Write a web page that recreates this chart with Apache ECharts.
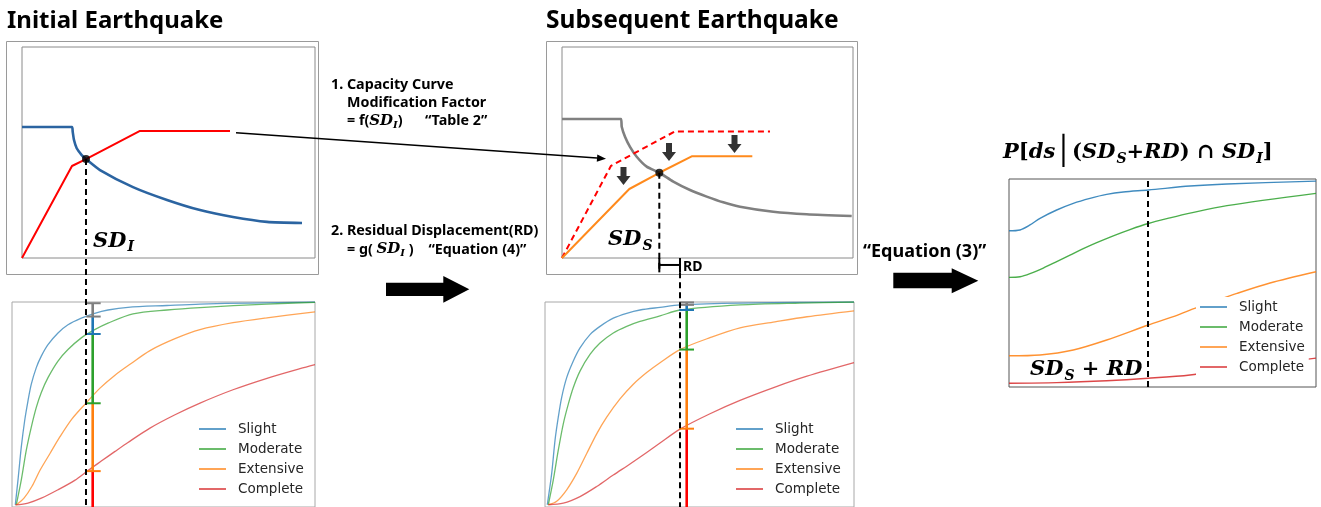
<!DOCTYPE html>
<html><head><meta charset="utf-8">
<script src="https://cdn.jsdelivr.net/npm/echarts@6/dist/echarts.min.js"></script>
<style>html,body{margin:0;padding:0;background:#fff}#c{width:1321px;height:507px}</style>
</head><body><div id="c"></div><script>
// ---------- DATA ----------
const stateNames = ['Slight', 'Moderate', 'Extensive', 'Complete'];
// Initial earthquake: demand & capacity (x: SD 0-10, y: SA 0-1)
const demI_x = [0, 1.706, 1.730, 1.775, 1.867, 2.038, 2.184, 2.662, 3.788, 4.949, 6.075, 7.201, 8.362, 9.556];
const demI_y = [0.621, 0.621, 0.599, 0.559, 0.520, 0.488, 0.469, 0.417, 0.336, 0.275, 0.227, 0.194, 0.171, 0.166];
const capI_x = [0, 1.706, 2.184, 4.027, 7.099];
const capI_y = [0, 0.436, 0.469, 0.602, 0.602];
const ptI = [2.184, 0.469];
// Subsequent earthquake
const demS_x = [0, 2.027, 2.052, 2.165, 2.337, 2.567, 2.911, 3.344, 3.825, 4.399, 4.973, 5.540, 6.117, 7.261, 8.409, 9.955];
const demS_y = [0.659, 0.659, 0.622, 0.575, 0.527, 0.480, 0.433, 0.404, 0.362, 0.322, 0.291, 0.264, 0.243, 0.219, 0.207, 0.199];
const capO_x = [0, 1.684, 3.883, 7.148];
const capO_y = [0, 0.437, 0.600, 0.600];
const capM_x = [0, 2.313, 3.344, 4.457, 6.540];
const capM_y = [0, 0.327, 0.404, 0.482, 0.482];
const ptS = [3.344, 0.404];
const downArrowX = [2.113, 3.677, 5.928];
const downArrowY = [0.389, 0.502, 0.540];
const rdX = [3.344, 4.055];
const rdY = -0.033;
const dashBottom = -1.18;
// Fragility curves, initial (x: 0-10, P: 0-1)
const fL_slight_x = [0.109, 0.198, 0.307, 0.419, 0.528, 0.637, 0.802, 0.967, 1.188, 1.518, 1.848, 2.287, 2.729, 3.168, 3.828, 5.116, 6.205, 7.855, 10];
const fL_slight_y = [0.011, 0.132, 0.293, 0.422, 0.518, 0.599, 0.680, 0.736, 0.792, 0.849, 0.889, 0.921, 0.945, 0.961, 0.974, 0.983, 0.990, 0.995, 1.0];
const fL_mod_x = [0.142, 0.307, 0.472, 0.637, 0.802, 0.967, 1.188, 1.518, 1.848, 2.287, 2.729, 3.168, 3.993, 5.116, 6.205, 8.416, 10];
const fL_mod_y = [0.011, 0.132, 0.277, 0.390, 0.486, 0.559, 0.631, 0.712, 0.768, 0.825, 0.865, 0.897, 0.942, 0.961, 0.973, 0.990, 0.998];
const fL_ext_x = [0.142, 0.396, 0.660, 0.924, 1.254, 1.584, 1.980, 2.442, 2.904, 3.399, 3.894, 4.554, 5.380, 6.205, 7.294, 8.416, 10];
const fL_ext_y = [0.010, 0.043, 0.101, 0.179, 0.261, 0.343, 0.430, 0.507, 0.580, 0.643, 0.696, 0.763, 0.821, 0.865, 0.899, 0.923, 0.952];
const fL_com_x = [0.109, 0.528, 0.967, 1.518, 2.069, 2.508, 2.947, 3.389, 3.828, 4.554, 5.380, 6.205, 7.294, 8.416, 9.505, 10];
const fL_com_y = [0.010, 0.019, 0.043, 0.084, 0.130, 0.178, 0.224, 0.270, 0.315, 0.385, 0.450, 0.507, 0.572, 0.628, 0.675, 0.695];
const barL_x = 2.663, barL_tick = [2.452, 2.927];
const barL_levels = [0.994, 0.929, 0.844, 0.506, 0.175, -0.03];
// Fragility curves, subsequent
const fM_slight_x = [0.074, 0.217, 0.324, 0.430, 0.540, 0.702, 0.916, 1.133, 1.456, 1.780, 2.210, 2.644, 3.074, 3.722, 4.369, 6.311, 10];
const fM_slight_y = [0.011, 0.164, 0.325, 0.438, 0.535, 0.631, 0.712, 0.776, 0.841, 0.881, 0.921, 0.945, 0.961, 0.974, 0.986, 0.995, 1.0];
const fM_mod_x = [0.107, 0.269, 0.430, 0.592, 0.754, 0.916, 1.133, 1.456, 1.780, 2.210, 2.644, 3.074, 3.722, 4.369, 6.311, 8.252, 10];
const fM_mod_y = [0.011, 0.132, 0.277, 0.406, 0.502, 0.583, 0.663, 0.744, 0.800, 0.849, 0.881, 0.905, 0.932, 0.961, 0.986, 0.995, 1.0];
const fM_ext_x = [0.107, 0.379, 0.702, 1.026, 1.350, 1.673, 1.997, 2.427, 2.858, 3.291, 3.722, 4.369, 5.340, 6.311, 7.443, 8.479, 10];
const fM_ext_y = [0.011, 0.028, 0.084, 0.164, 0.261, 0.357, 0.438, 0.527, 0.599, 0.656, 0.704, 0.768, 0.826, 0.874, 0.903, 0.928, 0.957];
const fM_com_x = [0.107, 0.592, 1.133, 1.673, 2.210, 2.751, 3.291, 3.722, 4.369, 5.340, 6.311, 7.443, 8.479, 10];
const fM_com_y = [0.011, 0.019, 0.051, 0.100, 0.156, 0.210, 0.266, 0.312, 0.380, 0.455, 0.520, 0.585, 0.638, 0.704];
const barM_x = 4.586, barM_tick = [4.346, 4.822];
const barM_levels = [0.998, 0.986, 0.961, 0.768, 0.382, -0.03];
// Conditional fragility (right)
const fR_slight_x = [0, 0.358, 0.684, 1.010, 1.554, 2.094, 2.638, 3.182, 3.723, 4.537, 5.896, 7.101, 10];
const fR_slight_y = [0.751, 0.755, 0.779, 0.811, 0.851, 0.883, 0.907, 0.926, 0.9375, 0.947, 0.966, 0.976, 0.990];
const fR_mod_x = [0, 0.358, 0.684, 1.117, 1.554, 1.987, 2.420, 2.857, 3.397, 3.941, 4.537, 5.244, 5.896, 7.101, 10];
const fR_mod_y = [0.527, 0.530, 0.545, 0.572, 0.603, 0.634, 0.665, 0.694, 0.727, 0.757, 0.786, 0.813, 0.836, 0.872, 0.931];
const fR_ext_x = [0, 1.010, 2.094, 3.182, 4.537, 5.352, 5.896, 6.547, 7.427, 8.502, 10];
const fR_ext_y = [0.150, 0.154, 0.178, 0.226, 0.298, 0.338, 0.370, 0.404, 0.450, 0.500, 0.554];
const fR_com_x = [0, 1.554, 3.182, 4.537, 5.896, 7.199, 8.502, 10];
const fR_com_y = [0.018, 0.021, 0.030, 0.042, 0.058, 0.087, 0.111, 0.139];
const dashR_x = 4.528;

// ---------- BUILD ----------
const zip = (a, b) => a.map((v, i) => [v, b[i]]);
const tab = ['#1f77b4', '#2ca02c', '#ff7f0e', '#d62728'];
const barColors = ['#7f7f7f', '#1f77b4', '#2ca02c', '#ff7f0e', '#ff0000'];
const series = [];
function ln(gi, data, color, width, extra) {
  const s = Object.assign({
    type: 'line', xAxisIndex: gi, yAxisIndex: gi, data: data, symbol: 'none',
    clip: false, animation: false, silent: true,
    lineStyle: { color: color, width: width }, itemStyle: { color: color }
  }, extra || {});
  if (extra && extra.lineStyle) s.lineStyle = Object.assign({ color: color, width: width }, extra.lineStyle);
  series.push(s);
}
const dashStyle = { type: [6, 4] };
// panel 1
ln(0, zip(demI_x, demI_y), '#2b64a1', 2.6, { smooth: 0.2, z: 3 });
ln(0, zip(capI_x, capI_y), '#ff0000', 2, { z: 3 });
ln(0, [[ptI[0], ptI[1]], [ptI[0], dashBottom]], '#000', 2, { lineStyle: dashStyle, z: 6 });
series.push({ type: 'scatter', xAxisIndex: 0, yAxisIndex: 0, data: [ptI], symbolSize: 8, itemStyle: { color: '#000' }, z: 7, animation: false, silent: true });
// panel 2
ln(1, zip(demS_x, demS_y), '#808080', 2.6, { smooth: 0.2, z: 3 });
ln(1, zip(capO_x, capO_y), '#ff0000', 2, { lineStyle: dashStyle, z: 3 });
ln(1, zip(capM_x, capM_y), '#ff8a1c', 2, { z: 3 });
ln(1, [[ptS[0], ptS[1]], [ptS[0], rdY - 0.03]], '#000', 2, { lineStyle: dashStyle, z: 6 });
ln(1, [[rdX[0], rdY], [rdX[1], rdY]], '#000', 2, { z: 6 });
ln(1, [[rdX[0], rdY + 0.033], [rdX[0], rdY - 0.035]], '#000', 2, { z: 6 });
ln(1, [[rdX[1], rdY + 0.033], [rdX[1], rdY - 0.035]], '#000', 2, { z: 6 });
ln(1, [[rdX[1], rdY - 0.035], [rdX[1], dashBottom]], '#000', 2, { lineStyle: dashStyle, z: 6 });
series.push({ type: 'scatter', xAxisIndex: 1, yAxisIndex: 1, data: [ptS], symbolSize: 8, itemStyle: { color: '#000' }, z: 7, animation: false, silent: true });
series.push({ type: 'scatter', xAxisIndex: 1, yAxisIndex: 1, data: zip(downArrowX, downArrowY),
  symbol: 'path://M4,0L10,0L10,9L14,9L7,18L0,9L4,9Z', symbolSize: [14, 18], itemStyle: { color: '#000' }, z: 7, animation: false, silent: true });
// fragility lower panels
const lowL = [[fL_slight_x, fL_slight_y], [fL_mod_x, fL_mod_y], [fL_ext_x, fL_ext_y], [fL_com_x, fL_com_y]];
const lowM = [[fM_slight_x, fM_slight_y], [fM_mod_x, fM_mod_y], [fM_ext_x, fM_ext_y], [fM_com_x, fM_com_y]];
const right = [[fR_slight_x, fR_slight_y], [fR_mod_x, fR_mod_y], [fR_ext_x, fR_ext_y], [fR_com_x, fR_com_y]];
[[2, lowL, 0.7, 1.3], [3, lowM, 0.7, 1.3], [4, right, 0.85, 1.4]].forEach(([gi, set, op, w]) => {
  set.forEach((d, i) => ln(gi, zip(d[0], d[1]), tab[i], w, { name: stateNames[i], smooth: 0.3, clip: true,
    lineStyle: { opacity: op }, z: 2 }));
});
function bars(gi, bx, tk, lv) {
  for (let i = 0; i < 5; i++) ln(gi, [[bx, lv[i]], [bx, lv[i + 1]]], barColors[i], 2.6, { z: 5 });
  ln(gi, [[tk[0], lv[0]], [tk[1], lv[0]]], barColors[0], 2, { z: 5 });
  for (let i = 0; i < 4; i++) ln(gi, [[tk[0], lv[i + 1]], [tk[1], lv[i + 1]]], barColors[i], 2, { z: 5 });
}
bars(2, barL_x, barL_tick, barL_levels);
bars(3, barM_x, barM_tick, barM_levels);
ln(4, [[dashR_x, 0], [dashR_x, 1]], '#000', 2, { lineStyle: dashStyle, z: 6 });

// ---------- GRAPHIC ----------
const sans = '"Noto Sans", sans-serif';
const g = [];
g.push({ type: 'rect', shape: { x: 6.5, y: 41.5, width: 312, height: 233 }, style: { fill: 'none', stroke: '#9a9a9a', lineWidth: 1 }, z: 1 });
g.push({ type: 'rect', shape: { x: 546.5, y: 41.5, width: 311, height: 233 }, style: { fill: 'none', stroke: '#9a9a9a', lineWidth: 1 }, z: 1 });
function txt(x, y, text, rich, font, extra) {
  g.push(Object.assign({ type: 'text', x: x, y: y, z: 50, style: Object.assign({ text: text, rich: rich, font: font, fill: '#000', verticalAlign: 'middle', align: 'left' }, extra || {}) }));
}
txt(7, 21.5, 'Initial Earthquake', null, 'bold 24px ' + sans);
txt(546, 21.5, 'Subsequent Earthquake', null, 'bold 24.5px ' + sans);
const richSmall = {
  t: { fontFamily: 'Noto Sans', fontWeight: 'bold', fontSize: 14.3, lineHeight: 18 },
  i: { fontFamily: 'DejaVu Serif', fontWeight: 'bold', fontStyle: 'italic', fontSize: 15, lineHeight: 18 },
  s: { fontFamily: 'DejaVu Serif', fontWeight: 'bold', fontStyle: 'italic', fontSize: 10, lineHeight: 11, padding: [8, 0, 0, 0] }
};
txt(331, 84.5, '{t|1. Capacity Curve}', richSmall);
txt(347, 102.5, '{t|Modification Factor}', richSmall);
txt(347, 121, '{t|= f(}{i|SD}{s|I}{t|)      \u201cTable 2\u201d}', richSmall);
txt(331, 231, '{t|2. Residual Displacement(RD)}', richSmall);
txt(347, 249.5, '{t|= g( }{i|SD}{s|I}{t| )    \u201cEquation (4)\u201d}', richSmall);
txt(683, 267, 'RD', null, 'bold 14px ' + sans);
const richBig = {
  a: { fontFamily: 'DejaVu Serif', fontWeight: 'bold', fontStyle: 'italic', fontSize: 21, lineHeight: 26 },
  n: { fontFamily: 'DejaVu Serif', fontWeight: 'bold', fontSize: 21, lineHeight: 26 },
  b: { fontFamily: 'DejaVu Serif', fontWeight: 'bold', fontStyle: 'italic', fontSize: 14, lineHeight: 14, padding: [12, 0, 0, 1] },
  bar: { fontFamily: 'DejaVu Sans', fontSize: 28, lineHeight: 26 }
};
txt(93, 241.5, '{a|SD}{b|I}', richBig);
txt(608, 240, '{a|SD}{b|S}', richBig);
txt(1030, 370, '{a|SD}{b|S}{n| + }{a|RD}', richBig);
txt(1003, 153, '{a|P}{n|[}{a|ds}{bar|\u2502}{n|(}{a|SD}{b|S}{n|+}{a|RD}{n|) \u2229 }{a|SD}{b|I}{n|]}', richBig);
txt(863, 252, '\u201cEquation (3)\u201d', null, 'bold 18px ' + sans);
// block arrows
g.push({ type: 'polygon', z: 50, shape: { points: [[386, 282.7], [443.3, 282.7], [443.3, 276], [469.3, 289.3], [443.3, 302.7], [443.3, 296], [386, 296]] }, style: { fill: '#000' } });
g.push({ type: 'polygon', z: 50, shape: { points: [[893.3, 272.7], [951.7, 272.7], [951.7, 268.3], [978.3, 280.8], [951.7, 293.3], [951.7, 288.3], [893.3, 288.3]] }, style: { fill: '#000' } });
// connector arrow
(function () {
  const p0 = [236, 132.7], p1 = [606, 158.7];
  const a = Math.atan2(p1[1] - p0[1], p1[0] - p0[0]);
  const L = 9, W = 3.6;
  const bx = p1[0] - L * Math.cos(a), by = p1[1] - L * Math.sin(a);
  g.push({ type: 'line', z: 50, shape: { x1: p0[0], y1: p0[1], x2: bx, y2: by }, style: { stroke: '#000', lineWidth: 1.6 } });
  g.push({ type: 'polygon', z: 50, shape: { points: [p1, [bx - W * Math.sin(a), by + W * Math.cos(a)], [bx + W * Math.sin(a), by - W * Math.cos(a)]] }, style: { fill: '#000' } });
})();

const legendBase = {
  orient: 'vertical', itemWidth: 27, itemHeight: 14, itemGap: 6, padding: 0, selectedMode: false, z: 20,
  itemStyle: { opacity: 0 },
  textStyle: { fontFamily: 'DejaVu Sans', fontSize: 13.5, color: '#262626', padding: [0, 0, 0, 7] },
  data: stateNames
};
const option = {
  animation: false,
  backgroundColor: '#fff',
  grid: [
    { left: 22, top: 47, width: 293, height: 211, show: true, borderColor: '#8a8a8a', borderWidth: 1 },
    { left: 562, top: 47, width: 291, height: 211, show: true, borderColor: '#8a8a8a', borderWidth: 1 },
    { left: 12, top: 302, width: 303, height: 207, show: true, borderColor: '#a8a8a8', borderWidth: 1 },
    { left: 545, top: 302, width: 309, height: 207, show: true, borderColor: '#a8a8a8', borderWidth: 1 },
    { left: 1009, top: 179, width: 307, height: 208, show: true, borderColor: '#555', borderWidth: 1 }
  ],
  xAxis: Array.from({ length: 5 }, (_, i) => ({ gridIndex: i, type: 'value', min: 0, max: 10, show: false })),
  yAxis: Array.from({ length: 5 }, (_, i) => ({ gridIndex: i, type: 'value', min: 0, max: 1, show: false })),
  legend: [
    Object.assign({}, legendBase, { left: 198, top: 422 }),
    Object.assign({}, legendBase, { left: 735, top: 422 }),
    Object.assign({}, legendBase, { left: 1196, top: 297, padding: [3, 4, 3, 3], backgroundColor: '#fff' })
  ],
  graphic: g,
  series: series
};
const chart = echarts.init(document.getElementById('c'));
chart.setOption(option);
</script></body></html>
